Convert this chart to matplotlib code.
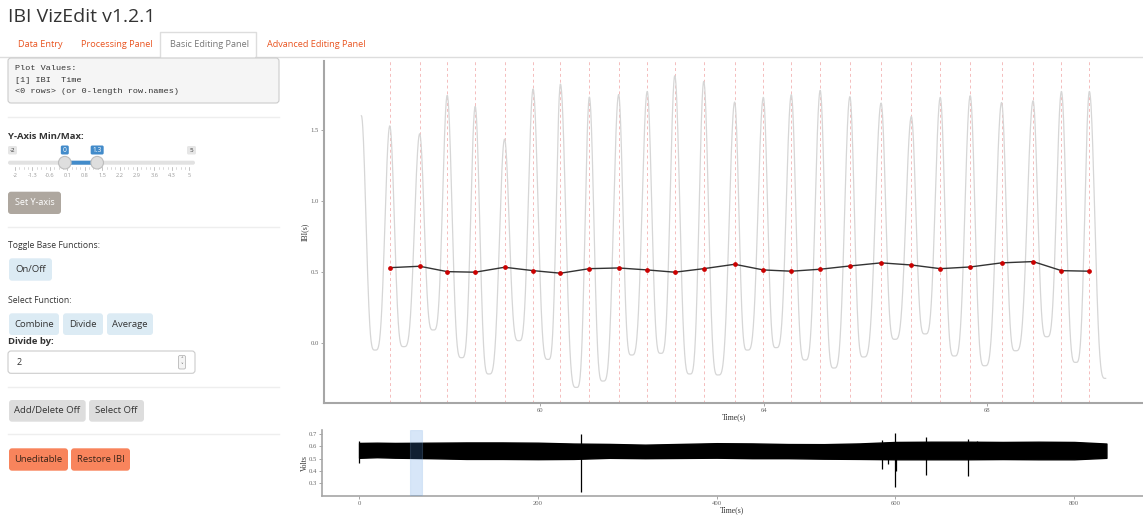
import matplotlib
matplotlib.use("Agg")
import matplotlib.pyplot as plt
from matplotlib.patches import FancyBboxPatch, Circle
import numpy as np

# ---------------- data ----------------
beat_times = [57.299, 57.835, 58.329, 58.830, 59.356, 59.868, 60.358, 60.877,
              61.401, 61.914, 62.408, 62.927, 63.481, 63.995, 64.496, 65.014,
              65.546, 66.106, 66.648, 67.166, 67.703, 68.265, 68.830, 69.338, 69.839]
ibi_values = [0.530, 0.540, 0.502, 0.498, 0.533, 0.509, 0.491, 0.523,
              0.528, 0.514, 0.498, 0.523, 0.554, 0.514, 0.505, 0.519,
              0.542, 0.564, 0.549, 0.523, 0.535, 0.564, 0.573, 0.509, 0.505]
peak_values = [1.532, 1.476, 1.747, 1.669, 1.438, 1.792, 1.827, 1.735,
               1.752, 1.775, 1.886, 1.846, 1.700, 1.733, 1.752, 1.782,
               1.738, 1.693, 1.598, 1.733, 1.745, 1.697, 1.709, 1.775, 1.775]
trough_times = [57.036, 57.549, 58.079, 58.587, 59.075, 59.612, 60.136, 60.644,
                61.120, 61.633, 62.157, 62.676, 63.184, 63.708, 64.222, 64.741,
                65.259, 65.789, 66.351, 66.893, 67.417, 67.961, 68.515, 69.075, 69.594]
trough_values = [-0.052, -0.028, 0.090, -0.106, -0.221, 0.014, -0.118, -0.316,
                 -0.271, -0.087, -0.075, -0.221, -0.228, -0.052, -0.035, -0.122,
                 -0.179, -0.101, 0.024, 0.062, -0.094, -0.163, -0.057, 0.042, -0.139]
signal_start = (56.79, 1.603)
signal_end = (70.13, -0.252)

# overview (whole recording) signal envelope
env_time = [0, 20, 40, 80, 120, 160, 200, 240, 280, 320, 360, 400,
            440, 480, 520, 560, 600, 640, 680, 720, 760, 800, 836]
env_upper = [0.628, 0.630, 0.628, 0.630, 0.632, 0.632, 0.630, 0.623, 0.620, 0.614, 0.620, 0.626,
             0.624, 0.619, 0.618, 0.624, 0.636, 0.638, 0.638, 0.636, 0.638, 0.636, 0.623]
env_lower = [0.507, 0.512, 0.508, 0.504, 0.498, 0.498, 0.496, 0.498, 0.507, 0.504, 0.506, 0.508,
             0.504, 0.504, 0.500, 0.498, 0.495, 0.495, 0.495, 0.497, 0.495, 0.495, 0.507]
spike_time = [0, 248.7, 585.4, 592, 599.7, 601, 634, 681.2, 691]
spike_low = [0.462, 0.233, 0.42, 0.46, 0.27, 0.40, 0.37, 0.36, 0.52]
spike_high = [0.645, 0.698, 0.65, 0.60, 0.71, 0.62, 0.68, 0.66, 0.645]
window = (56.79, 70.13)

top_xticks = [60, 64, 68]
top_yticks = [0.0, 0.5, 1.0, 1.5]
bot_xticks = [0, 200, 400, 600, 800]
bot_yticks = [0.3, 0.4, 0.5, 0.6, 0.7]

slider_labels = ["-2", "-1.3", "-0.6", "0.1", "0.8", "1.5", "2.2", "2.9", "3.6", "4.3", "5"]
slider_min, slider_max = -2, 5
slider_sel = (0, 1.3)

tabs = ["Data Entry", "Processing Panel", "Basic Editing Panel", "Advanced Editing Panel"]
verbatim_lines = ["Plot Values:", "[1] IBI  Time", "<0 rows> (or 0-length row.names)"]

# ---------------- figure ----------------
W, H = 1143, 516
fig = plt.figure(figsize=(11.43, 5.16), dpi=100)
fig.patch.set_facecolor("white")
ui = fig.add_axes([0, 0, 1, 1])
ui.set_xlim(0, W)
ui.set_ylim(H, 0)
ui.axis("off")

UIF = "Open Sans"
MONO = "Liberation Mono"
SERIF = "Liberation Serif"


def box(x0, y0, x1, y1, fc, ec="none", r=3, lw=0.8, z=2):
    ui.add_patch(FancyBboxPatch((x0, y0), x1 - x0, y1 - y0,
                                boxstyle=f"round,pad=0,rounding_size={r}",
                                fc=fc, ec=ec, lw=lw, zorder=z))


def button(x0, y0, x1, y1, label, fc, tc="#333333", size=6.8, weight="normal"):
    box(x0, y0, x1, y1, fc)
    ui.text((x0 + x1) / 2, (y0 + y1) / 2, label, ha="center", va="center",
            fontsize=size, color=tc, family=UIF, weight=weight, zorder=3)


def hr(y, x0=8, x1=279):
    ui.plot([x0, x1], [y, y], color="#eeeeee", lw=1.0, zorder=1)


# title
ui.text(8, 17, "IBI VizEdit v1.2.1", ha="left", va="center", fontsize=14,
        color="#333333", family=UIF)

# tabs
ui.plot([0, W], [57, 57], color="#dddddd", lw=1.0, zorder=1)
ui.plot([160, 160, 255.5, 255.5], [57, 32, 32, 57], color="#dddddd", lw=1.0, zorder=2)
ui.add_patch(plt.Rectangle((160.5, 32.5), 94.5, 25, fc="white", ec="none", zorder=1.5))
tab_x = [18, 81, 170, 267]
for tx, tl in zip(tab_x, tabs):
    col = "#777777" if tl == "Basic Editing Panel" else "#e95420"
    ui.text(tx, 44.5, tl, ha="left", va="center", fontsize=6.6, color=col, family=UIF)

# verbatim output
box(8, 58, 279, 103, "#f5f5f5", ec="#cccccc", r=3)
for i, line in enumerate(verbatim_lines):
    ui.text(15, 69 + 11.3 * i, line, ha="left", va="center", fontsize=6.1,
            color="#333333", family=MONO, zorder=3)

hr(117.3)
ui.text(8, 136.5, "Y-Axis Min/Max:", ha="left", va="center", fontsize=6.8,
        color="#333333", family=UIF, weight="bold")

# slider
sx0, sx1 = 15, 189.3
def sx(v):
    return sx0 + (v - slider_min) / (slider_max - slider_min) * (sx1 - sx0)

box(8, 160.7, 195, 164.7, "#e2e2e2", r=2)
box(sx(slider_sel[0]), 160.7, sx(slider_sel[1]), 164.7, "#428bca", r=0, z=2.2)
for v, lab in zip((slider_min, slider_max), ("-2", "5")):
    x = 12.5 if v == slider_min else 191.5
    box(x - 4.5, 146, x + 4.5, 154.5, "#e6e6e6", r=1.5)
    ui.text(x, 150.3, lab, ha="center", va="center", fontsize=4.5, color="#333333",
            family=UIF, zorder=3)
for v in slider_sel:
    lab = "0" if v == 0 else "1.3"
    w = 4 if len(lab) == 1 else 6.5
    box(sx(v) - w, 145.5, sx(v) + w, 154.5, "#428bca", r=1.5)
    ui.text(sx(v), 150.2, lab, ha="center", va="center", fontsize=4.8, color="white",
            family=UIF, zorder=3)
    ui.add_patch(Circle((sx(v), 162.7), 6.3, fc="#dedede", ec="#bdbdbd", lw=0.8, zorder=4))
for i, lab in enumerate(slider_labels):
    x = sx0 + i * (sx1 - sx0) / (len(slider_labels) - 1)
    ui.plot([x, x], [166.5, 170], color="#aaaaaa", lw=0.5, zorder=1)
    ui.text(x, 175.5, lab, ha="center", va="center", fontsize=4.1, color="#999999",
            family=UIF)
    if i < len(slider_labels) - 1:
        for k in range(1, 4):
            xm = x + k * (sx1 - sx0) / (len(slider_labels) - 1) / 4
            ui.plot([xm, xm], [166.5, 168.5], color="#bbbbbb", lw=0.4, zorder=1)

button(8, 191.7, 61, 214, "Set Y-axis", "#aea79f", tc="white", size=6.5)
hr(227.3)

ui.text(8, 246, "Toggle Base Functions:", ha="left", va="center", fontsize=6.2,
        color="#333333", family=UIF)
button(9, 258.3, 52, 280.7, "On/Off", "#dcebf4")
ui.text(8, 300.7, "Select Function:", ha="left", va="center", fontsize=6.2,
        color="#333333", family=UIF)
button(9, 313.3, 59, 335, "Combine", "#dcebf4")
button(63, 313.3, 103, 335, "Divide", "#dcebf4")
button(107, 313.3, 153, 335, "Average", "#dcebf4")
ui.text(8, 341.5, "Divide by:", ha="left", va="center", fontsize=6.8,
        color="#333333", family=UIF, weight="bold")
box(8, 351, 195, 373.3, "white", ec="#cccccc", r=3)
ui.text(17, 362.3, "2", ha="left", va="center", fontsize=6.5, color="#333333", family=UIF, zorder=3)
box(178.5, 355.5, 185.5, 369, "#f4f4f4", ec="#aaaaaa", r=1.5, lw=0.5, z=3)
ui.text(182, 359.3, "\u02c4", ha="center", va="center", fontsize=4, color="#666666", zorder=4)
ui.text(182, 365.5, "\u02c5", ha="center", va="center", fontsize=4, color="#666666", zorder=4)

hr(386.7)
button(9, 400, 85.7, 421.7, "Add/Delete Off", "#dddddd")
button(89, 400, 144, 421.7, "Select Off", "#dddddd")
hr(434.3)
button(9, 448.3, 68, 470.7, "Uneditable", "#f8845c", tc="#3a2418")
button(71, 448.3, 130, 470.7, "Restore IBI", "#f8845c", tc="#3a2418")

# ---------------- IBI plot ----------------
ax = fig.add_axes([324 / W, (H - 403) / H, (W - 324) / W, (403 - 61) / H])
ax.set_facecolor("white")

knots = [(signal_start[0], signal_start[1], "P")]
for tt, tv, pt, pv in zip(trough_times, trough_values, beat_times, peak_values):
    knots.append((tt, tv, "T"))
    knots.append((pt, pv, "P"))
knots.append((signal_end[0], signal_end[1], "T"))

sig_t, sig_v = [], []
for (t0, v0, k0), (t1, v1, k1) in zip(knots[:-1], knots[1:]):
    tt = np.linspace(t0, t1, 60)
    if k0 == "T":
        tm, T, tp, P = t0, v0, t1, v1
    else:
        tm, T, tp, P = t1, v1, t0, v0
    s = (tt - tm) / (tp - tm)
    sig_t.extend(tt)
    sig_v.extend(T + (P - T) * ((1 - np.cos(np.pi * s)) / 2) ** 2)

for bt in beat_times:
    ax.axvline(bt, color="#f4bcbc", lw=0.7, ls=(0, (3, 3)), zorder=1)
ax.plot(sig_t, sig_v, color="#d6d6d6", lw=0.9, zorder=2)
ax.plot(beat_times, ibi_values, color="#333333", lw=1.0, zorder=3)
ax.plot(beat_times, ibi_values, "o", color="#cc0000", ms=2.4, mec="#cc0000", zorder=4)

ax.set_xlim(56.12, 70.80)
ax.set_ylim(-0.426, 1.99)
ax.set_xticks(top_xticks)
ax.set_xticklabels([str(v) for v in top_xticks])
ax.set_yticks(top_yticks)
ax.set_yticklabels([f"{v:.1f}" for v in top_yticks])
for side in ("top", "right"):
    ax.spines[side].set_visible(False)
for side in ("left", "bottom"):
    ax.spines[side].set_color("#a6a6a6")
    ax.spines[side].set_linewidth(1.5)
ax.tick_params(direction="out", length=2, width=0.6, color="#999999", labelsize=4.8,
               labelcolor="#666666", pad=1.5)
for lab in ax.get_xticklabels() + ax.get_yticklabels():
    lab.set_family(SERIF)
ax.set_xlabel("Time(s)", fontsize=5.6, family=SERIF, color="#333333")
ax.set_ylabel("IBI(s)", fontsize=5.6, family=SERIF, color="#333333")
ax.xaxis.set_label_coords(0.5, -0.029)
ax.yaxis.set_label_coords(-0.0183, 0.5)

# ---------------- overview plot ----------------
bx = fig.add_axes([321.7 / W, (H - 496) / H, (W - 321.7) / W, (496 - 430) / H])
bx.set_facecolor("white")
bx.fill_between(env_time, env_lower, env_upper, color="black", lw=1.0, zorder=2)
bx.vlines(spike_time, spike_low, spike_high, color="black", lw=0.9, zorder=2)
bx.axvspan(window[0], window[1], fc="#4a90e2", ec="#7fb0e6", alpha=0.22, lw=0.8, zorder=3)
bx.set_xlim(-41.8, 876.9)
bx.set_ylim(0.197, 0.733)
bx.set_xticks(bot_xticks)
bx.set_xticklabels([str(v) for v in bot_xticks])
bx.set_yticks(bot_yticks)
bx.set_yticklabels([f"{v:.1f}" for v in bot_yticks])
for side in ("top", "right"):
    bx.spines[side].set_visible(False)
for side in ("left", "bottom"):
    bx.spines[side].set_color("#a6a6a6")
    bx.spines[side].set_linewidth(1.2)
bx.tick_params(direction="out", length=2, width=0.6, color="#999999", labelsize=4.8,
               labelcolor="#666666", pad=1.5)
for lab in bx.get_xticklabels() + bx.get_yticklabels():
    lab.set_family(SERIF)
bx.set_xlabel("Time(s)", fontsize=5.6, family=SERIF, color="#333333")
bx.set_ylabel("Volts", fontsize=5.6, family=SERIF, color="#333333")
bx.xaxis.set_label_coords(0.5, -0.152)
bx.yaxis.set_label_coords(-0.016, 0.5)

fig.savefig("out.png", dpi=100, facecolor="white")
